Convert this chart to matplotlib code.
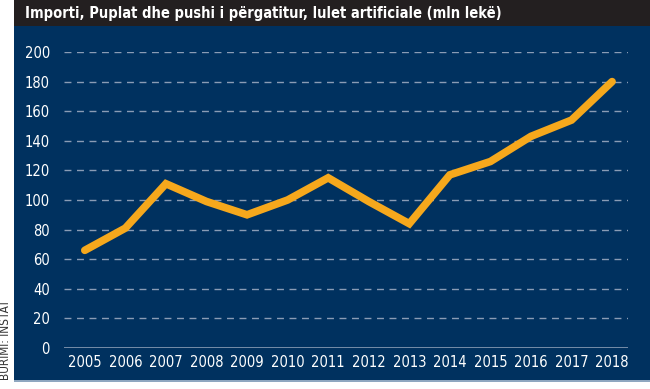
import matplotlib.pyplot as plt
from matplotlib.patches import Rectangle

years = list(range(2005, 2019))
values = [66, 81, 111, 99, 90, 100, 115, 99, 84, 117, 126, 143, 154, 180]
y_ticks = list(range(0, 201, 20))

title = "Importi, Puplat dhe pushi i përgatitur, lulet artificiale (mln lekë)"
source = "BURIMI: INSTAT"

navy = "#00315f"
header = "#231f20"
orange = "#f6a81c"
grid_col = "#8a9cb5"
font = "DejaVu Sans"

fig = plt.figure(figsize=(6.5, 3.89), dpi=100)
fig.patch.set_facecolor("white")

# background panels, kept behind the axes
for rect in [((0.0215, 0.0206), 0.9785, 0.913, navy),
             ((0.0215, 0.933), 0.9785, 0.067, header),
             ((0.0215, 0.0185), 0.9785, 0.004, "#8fa7c0")]:
    fig.add_artist(Rectangle(rect[0], rect[1], rect[2], transform=fig.transFigure,
                             facecolor=rect[3], edgecolor="none", zorder=-5))

fig.text(0.038, 0.966, title, color="white", fontsize=10.5, fontweight="bold",
         family=font, stretch="condensed", va="center", ha="left")
fig.text(0.009, 0.022, source, color="#333333", fontsize=8.5, rotation=90,
         family=font, stretch="condensed", va="bottom", ha="center")

ax = fig.add_axes([0.098, 0.1054, 0.868, 0.7609])
ax.set_facecolor("none")
ax.set_xlim(2004.48, 2018.39)
ax.set_ylim(0, 200)

for t in y_ticks[1:]:
    ax.axhline(t, color=grid_col, lw=1, dashes=(5, 4), zorder=1)
ax.axhline(0, color=grid_col, lw=1.2, zorder=1)

ax.plot(years, values, color=orange, lw=5.5, solid_capstyle="round",
        solid_joinstyle="miter", zorder=3)

ax.set_xticks(years)
ax.set_xticklabels([str(y) for y in years])
ax.set_yticks(y_ticks)
ax.tick_params(length=0, colors="white", labelsize=10.5)
ax.tick_params(axis="y", pad=10)
ax.tick_params(axis="x", pad=5)
for lab in ax.get_xticklabels() + ax.get_yticklabels():
    lab.set_family(font)
    lab.set_stretch("condensed")
for s in ax.spines.values():
    s.set_visible(False)

fig.savefig("out.png", dpi=100)
